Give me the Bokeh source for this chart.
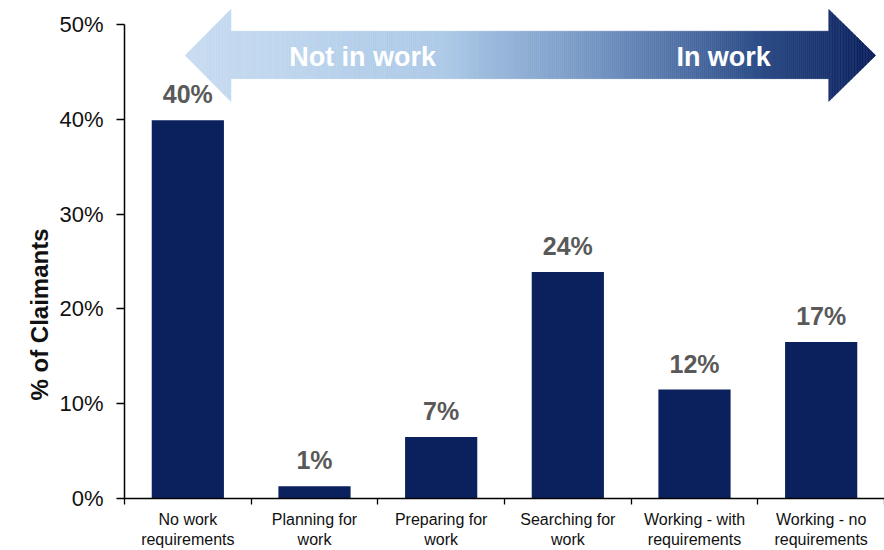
from bokeh.plotting import figure
from bokeh.models import FixedTicker, NumeralTickFormatter, Range1d, ColumnDataSource, Title
from bokeh.embed import file_html
from bokeh.resources import INLINE

# ---- data ----
categories = ["No work\nrequirements", "Planning for\nwork", "Preparing for\nwork",
              "Searching for\nwork", "Working - with\nrequirements", "Working - no\nrequirements"]
shares = [0.399, 0.013, 0.065, 0.239, 0.115, 0.165]
share_labels = ["40%", "1%", "7%", "24%", "12%", "17%"]
y_ticks = [0.0, 0.1, 0.2, 0.3, 0.4, 0.5]
arrow_texts = ["Not in work", "In work"]
y_title = "% of Claimants"

# ---- style ----
BAR = "#0b215e"
FONT = "Liberation Sans"
GRAD_STOPS = [(0.0, (200, 220, 241)), (0.38, (172, 201, 231)), (0.62, (108, 142, 190)),
              (0.82, (48, 80, 138)), (1.0, (10, 31, 92))]
# arrow geometry (x in category units, y in share units)
AX_TIP_L, AX_BASE_L, AX_BASE_R, AX_TIP_R = 0.48, 0.84, 5.56, 5.93
AY_HEAD_LO, AY_HEAD_HI, AY_SHAFT_LO, AY_SHAFT_HI = 0.419, 0.516, 0.443, 0.493

p = figure(width=884, height=550, output_backend="svg", toolbar_location=None,
           x_range=Range1d(0, len(categories)), y_range=Range1d(0, 0.517),
           min_border_left=124, min_border_right=0, min_border_top=8, min_border_bottom=52)
p.outline_line_color = None
p.grid.visible = False
p.background_fill_color = "white"

xs = [i + 0.5 for i in range(len(categories))]
src = ColumnDataSource(dict(x=xs, top=shares, lab=share_labels))
p.vbar(x="x", top="top", width=0.57, bottom=0, source=src, fill_color=BAR, line_color=None)
p.text(x="x", y="top", text="lab", source=src, text_align="center", text_baseline="bottom",
       y_offset=-12, text_font_size="25px", text_font_style="bold", text_color="#595959",
       text_font={"value": FONT})

# ---- gradient arrow ----
def lerp_color(t):
    for (t0, c0), (t1, c1) in zip(GRAD_STOPS[:-1], GRAD_STOPS[1:]):
        if t <= t1:
            f = (t - t0) / (t1 - t0) if t1 > t0 else 0
            return "#%02x%02x%02x" % tuple(int(round(a + (b - a) * f)) for a, b in zip(c0, c1))
    return "#%02x%02x%02x" % GRAD_STOPS[-1][1]

mid = (AY_HEAD_LO + AY_HEAD_HI) / 2

def head_extent(f):
    return mid - f * (mid - AY_HEAD_LO), mid + f * (AY_HEAD_HI - mid)

pxs, pys, cols = [], [], []
segments = [(AX_TIP_L, AX_BASE_L, 30, "L"), (AX_BASE_L, AX_BASE_R, 300, "S"), (AX_BASE_R, AX_TIP_R, 30, "R")]
for a, b, n, kind in segments:
    for k in range(n):
        x0 = a + (b - a) * k / n
        x1 = a + (b - a) * (k + 1) / n
        if kind == "L":
            lo0, hi0 = head_extent(k / n)
            lo1, hi1 = head_extent((k + 1) / n)
        elif kind == "R":
            lo0, hi0 = head_extent(1 - k / n)
            lo1, hi1 = head_extent(1 - (k + 1) / n)
        else:
            lo0 = lo1 = AY_SHAFT_LO
            hi0 = hi1 = AY_SHAFT_HI
        pxs.append([x0, x1, x1, x0])
        pys.append([lo0, lo1, hi1, hi0])
        t = ((x0 + x1) / 2 - AX_TIP_L) / (AX_TIP_R - AX_TIP_L)
        cols.append(lerp_color(t))
p.patches(pxs, pys, fill_color=cols, line_color=cols, line_width=0.6)

p.text(x=[1.88, 4.73], y=[mid, mid], y_offset=2, text=arrow_texts, text_align="center",
       text_baseline="middle", text_color="white", text_font_size="27px",
       text_font_style="bold", text_font={"value": FONT})

# ---- axes ----
ya = p.yaxis[0]
ya.ticker = FixedTicker(ticks=y_ticks)
ya.bounds = (0, 0.5)
ya.formatter = NumeralTickFormatter(format="0%")
ya.axis_line_color = "black"
ya.axis_line_width = 1.5
ya.major_tick_in = 0
ya.major_tick_out = 8
ya.major_tick_line_width = 1.3
ya.minor_tick_line_color = None
ya.major_label_text_font = FONT
ya.major_label_text_font_size = "22px"
ya.major_label_text_color = "#111111"
ya.major_label_standoff = 13

xa = p.xaxis[0]
xa.ticker = FixedTicker(ticks=xs, minor_ticks=list(range(len(categories) + 1)))
xa.major_label_overrides = {x: c for x, c in zip(xs, categories)}
xa.axis_line_color = "black"
xa.axis_line_width = 1.5
xa.major_tick_in = 0
xa.major_tick_out = 0
xa.minor_tick_in = 0
xa.minor_tick_out = 6
xa.minor_tick_line_color = "black"
xa.minor_tick_line_width = 1.3
xa.major_label_text_font = FONT
xa.major_label_text_font_size = "16px"
xa.major_label_text_color = "#111111"
xa.major_label_standoff = 6

p.add_layout(Title(text=y_title, align="left", offset=98, text_font=FONT, text_font_size="24px",
                   text_font_style="bold", text_color="#111111", standoff=8), "left")

open("out.html", "w").write(file_html(p, INLINE))
